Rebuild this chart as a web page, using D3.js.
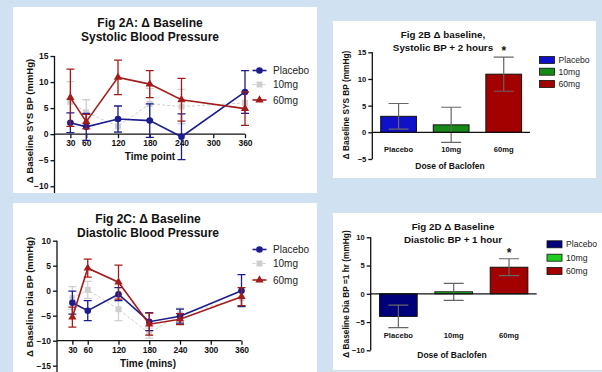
<!DOCTYPE html>
<html>
<head>
<meta charset="utf-8">
<script src="https://cdn.jsdelivr.net/npm/d3@7"></script>
<style>
  body { margin: 0; background: #d0e1f2; }
  svg { display: block; font-family: "Liberation Sans", Arial, sans-serif; }
</style>
</head>
<body>
<div id="chart"></div>
<script>
// Time points (mins) for the line panels
var timePoints = [30, 60, 120, 180, 240, 360];
var timeTicks = [30, 60, 120, 180, 240, 300, 360];
var groups = ["Placebo", "10mg", "60mg"];

// Fig 2A - systolic change from baseline, mean and error
var sysPlacebo = [2.2, 1.4, 2.9, 2.6, -0.5, 8.1];
var sysPlaceboErr = [1.9, 2.6, 2.5, 3.2, 4.4, 4.1];
var sys10 = [6.2, 4.2, 1.5, 5.8, 5.3, 6.0];
var sys10Err = [3.9, 2.4, 1.0, 3.0, 3.3, 2.0];
var sys60 = [7.0, 2.4, 10.9, 9.6, 6.6, 4.9];
var sys60Err = [5.5, 1.4, 3.3, 2.6, 4.1, 3.2];

// Fig 2C - diastolic change from baseline
var diaPlacebo = [-2.4, -4.0, -0.7, -6.2, -5.1, 0.0];
var diaPlaceboErr = [2.3, 2.0, 1.3, 1.8, 1.4, 3.2];
var dia10 = [-1.5, 0.15, -3.7, -8.5, -4.7, -1.5];
var dia10Err = [2.3, 1.7, 2.3, 1.0, 1.2, 1.5];
var dia60 = [-5.3, 4.5, 1.7, -6.7, -5.7, -1.2];
var dia60Err = [2.0, 1.8, 3.4, 2.2, 1.1, 1.8];

// Fig 2B / 2D - bar panels
var sys2h = [3.0, 1.4, 10.9];
var sys2hErr = [2.4, 3.3, 3.2];
var dia1h = [-4.0, 0.35, 4.7];
var dia1hErr = [2.0, 1.5, 1.5];

var W = 602, H = 372;
var FONT = "'Liberation Sans', Arial, sans-serif";

var svg = d3.select("#chart").append("svg")
  .attr("width", W).attr("height", H);

svg.append("rect").attr("width", W).attr("height", H).attr("fill", "#d0e1f2");

var lineColors = { "Placebo": "#1c1c8c", "10mg": "#cfcfcf", "60mg": "#a31c1c" };

function panel(id, x0, y0, x1, y1) {
  svg.append("clipPath").attr("id", id)
    .append("rect").attr("x", x0).attr("y", y0).attr("width", x1 - x0).attr("height", y1 - y0);
  svg.append("rect").attr("x", x0).attr("y", y0).attr("width", x1 - x0).attr("height", y1 - y0)
    .attr("fill", "#fff");
  return svg.append("g").attr("clip-path", "url(#" + id + ")");
}

function marker(g, shape, cx, cy, color) {
  if (shape === "circle") {
    g.append("circle").attr("cx", cx).attr("cy", cy).attr("r", 3.3).attr("fill", color);
  } else {
    var sym = shape === "square" ? d3.symbolSquare : d3.symbolTriangle;
    var size = shape === "square" ? 36 : 30;
    g.append("path").attr("d", d3.symbol().type(sym).size(size)())
      .attr("transform", "translate(" + cx + "," + cy + ")").attr("fill", color);
  }
}

function linePanel(cfg) {
  var g = panel(cfg.id, cfg.box[0], cfg.box[1], cfg.box[2], cfg.box[3]);
  var x = d3.scaleLinear().domain([0, 360]).range(cfg.xr);
  var y = d3.scaleLinear().domain(cfg.yd).range(cfg.yr);

  // title
  cfg.title.forEach(function(t, i) {
    g.append("text").attr("x", cfg.titleX).attr("y", cfg.titleY + i * 14)
      .attr("text-anchor", "middle").attr("font-size", 12).attr("font-weight", "bold")
      .attr("fill", "#111").text(t);
  });

  // axes
  var yAxis = d3.axisLeft(y).tickValues(cfg.yTicks).tickSize(4).tickPadding(2);
  var gy = g.append("g").attr("transform", "translate(" + x(0) + ",0)").call(yAxis);
  gy.select(".domain").attr("d", "M0," + y(cfg.yd[1]) + "V" + (cfg.yr[0] + 20));
  var xAxis = d3.axisBottom(x).tickValues(timeTicks).tickSize(4).tickPadding(2);
  var gx = g.append("g").attr("transform", "translate(0," + y(cfg.xAt) + ")").call(xAxis);
  gx.select(".domain").attr("d", "M" + x(0) + ",0H" + x(360));
  [gx, gy].forEach(function(a) {
    a.selectAll("path,line").attr("stroke", "#111").attr("stroke-width", 1.3);
    a.selectAll("text").attr("font-family", FONT).attr("font-size", 8.5)
      .attr("font-weight", "bold").attr("fill", "#111");
  });

  g.append("text").attr("x", cfg.xLabelX).attr("y", y(cfg.xAt) + 26)
    .attr("text-anchor", "middle").attr("font-size", 10).attr("font-weight", "bold")
    .attr("fill", "#111").text(cfg.xLabel);
  g.append("text").attr("transform", "translate(" + cfg.yLabelX + "," + cfg.yLabelY + ") rotate(-90)")
    .attr("text-anchor", "middle").attr("font-size", 9.5).attr("font-weight", "bold")
    .attr("fill", "#111").text(cfg.yLabel);

  // series: 10mg first (behind), then placebo, then 60mg
  var order = [1, 0, 2];
  var shapes = ["circle", "square", "triangle"];
  order.forEach(function(k) {
    var name = groups[k], color = lineColors[name];
    var vals = cfg.series[k], errs = cfg.errors[k];
    var pts = timePoints.map(function(t, i) { return [x(t), y(vals[i])]; });
    var sg = g.append("g");
    timePoints.forEach(function(t, i) {
      var cx = x(t), top = y(vals[i] + errs[i]), bot = y(vals[i] - errs[i]);
      sg.append("path")
        .attr("d", "M" + cx + "," + top + "V" + bot + "M" + (cx - 4) + "," + top + "h8M" + (cx - 4) + "," + bot + "h8")
        .attr("stroke", color).attr("stroke-width", 1.3).attr("fill", "none");
    });
    sg.append("path").attr("d", d3.line()(pts)).attr("fill", "none")
      .attr("stroke", color).attr("stroke-width", k === 1 ? 1 : 1.6)
      .attr("stroke-dasharray", k === 1 ? "3,2" : null);
    pts.forEach(function(p) { marker(sg, shapes[k], p[0], p[1], color); });
  });

  // legend
  groups.forEach(function(name, k) {
    var ly = cfg.legendY[k], color = lineColors[name];
    g.append("line").attr("x1", 252.5).attr("x2", 266.5).attr("y1", ly).attr("y2", ly)
      .attr("stroke", color).attr("stroke-width", k === 1 ? 1 : 1.6)
      .attr("stroke-dasharray", k === 1 ? "3,2" : null);
    marker(g, shapes[k], 259.5, ly, color);
    g.append("text").attr("x", 273).attr("y", ly + 3.5).attr("font-size", 10)
      .attr("fill", "#222").text(name);
  });
}

function barPanel(cfg) {
  var g = panel(cfg.id, cfg.box[0], cfg.box[1], cfg.box[2], cfg.box[3]);
  var x = d3.scaleBand().domain(groups).range(cfg.xr).paddingInner(0.32).paddingOuter(0.16);
  var y = d3.scaleLinear().domain(cfg.yd).range(cfg.yr);

  cfg.title.forEach(function(t, i) {
    g.append("text").attr("x", cfg.titleX).attr("y", cfg.titleY + i * 12.5)
      .attr("text-anchor", "middle").attr("font-size", 9.8).attr("font-weight", "bold")
      .attr("fill", "#111").text(t);
  });

  // bars
  groups.forEach(function(name, k) {
    var v = cfg.values[k], e = cfg.errors[k];
    g.append("rect").attr("x", x(name)).attr("width", x.bandwidth())
      .attr("y", Math.min(y(v), y(0))).attr("height", Math.abs(y(v) - y(0)))
      .attr("fill", cfg.colors[k]).attr("stroke", "#111").attr("stroke-width", 1);
    var cx = x(name) + x.bandwidth() / 2, top = y(v + e), bot = y(v - e);
    g.append("path")
      .attr("d", "M" + cx + "," + top + "V" + bot + "M" + (cx - 10) + "," + top + "h20M" + (cx - 10) + "," + bot + "h20")
      .attr("stroke", "#666").attr("stroke-width", 1.2).attr("fill", "none");
  });

  // significance star over 60mg
  var sx = x("60mg") + x.bandwidth() / 2;
  g.append("text").attr("x", sx).attr("y", y(cfg.values[2] + cfg.errors[2]) - 2)
    .attr("text-anchor", "middle").attr("font-size", 12).attr("font-weight", "bold")
    .attr("fill", "#111").text("*");

  var yAxis = d3.axisLeft(y).tickValues(cfg.yTicks).tickSize(4).tickPadding(2);
  var gy = g.append("g").attr("transform", "translate(" + cfg.xr[0] + ",0)").call(yAxis);
  gy.select(".domain").attr("d", "M0," + cfg.yr[1] + "V" + cfg.yr[0]);
  var gx = g.append("g").attr("transform", "translate(0," + y(0) + ")")
    .call(d3.axisBottom(x).tickSize(0).tickPadding(0));
  gx.select(".domain").attr("d", "M" + cfg.xr[0] + ",0H" + cfg.xr[1]);
  gx.selectAll("text").attr("y", cfg.tickLabelY - y(0)).attr("dy", "0.35em");
  [gx, gy].forEach(function(a) {
    a.selectAll("path,line").attr("stroke", "#111").attr("stroke-width", 1.3);
    a.selectAll("text").attr("font-family", FONT).attr("font-size", 7.6)
      .attr("font-weight", "bold").attr("fill", "#111");
  });

  g.append("text").attr("x", cfg.xLabelX).attr("y", cfg.xLabelY)
    .attr("text-anchor", "middle").attr("font-size", 8.5).attr("font-weight", "bold")
    .attr("fill", "#111").text("Dose of Baclofen");
  g.append("text").attr("transform", "translate(" + cfg.yLabelX + "," + cfg.yLabelY + ") rotate(-90)")
    .attr("text-anchor", "middle").attr("font-size", 8.3).attr("font-weight", "bold")
    .attr("fill", "#111").text(cfg.yLabel);

  groups.forEach(function(name, k) {
    var ly = cfg.legendY[k];
    g.append("rect").attr("x", cfg.legendX).attr("y", ly - 3.5).attr("width", 15).attr("height", 7)
      .attr("fill", cfg.colors[k]).attr("stroke", "#111").attr("stroke-width", 0.8);
    g.append("text").attr("x", cfg.legendX + 19).attr("y", ly + 3).attr("font-size", 8.6)
      .attr("fill", "#222").text(name);
  });
}

linePanel({
  id: "clipA", box: [13, 7, 317, 193],
  xr: [54.5, 245], yd: [-15, 15], yr: [212.3, 56], yTicks: [-10, -5, 0, 5, 10, 15], xAt: 0,
  title: ["Fig 2A: \u0394 Baseline", "Systolic Blood Pressure"], titleX: 150, titleY: 27,
  xLabel: "Time point", xLabelX: 150, yLabel: "\u0394 Baseline SYS BP (mmHg)", yLabelX: 33, yLabelY: 121,
  series: [sysPlacebo, sys10, sys60], errors: [sysPlaceboErr, sys10Err, sys60Err],
  legendY: [70.5, 84.5, 100]
});

linePanel({
  id: "clipC", box: [13, 203, 317, 372],
  xr: [57, 241.5], yd: [-15, 10], yr: [365.7, 240.7], yTicks: [-15, -10, -5, 0, 5, 10], xAt: -10,
  title: ["Fig 2C: \u0394 Baseline", "Diastolic Blood Pressure"], titleX: 148, titleY: 223,
  xLabel: "Time (mins)", xLabelX: 148, yLabel: "\u0394 Baseline Dia BP (mmHg)", yLabelX: 33, yLabelY: 297,
  series: [diaPlacebo, dia10, dia60], errors: [diaPlaceboErr, dia10Err, dia60Err],
  legendY: [249.5, 263.5, 280]
});

barPanel({
  id: "clipB", box: [333, 21, 596, 178],
  xr: [372.3, 530], yd: [-5, 15], yr: [159, 52.3], yTicks: [-5, 0, 5, 10, 15],
  colors: ["#1010c8", "#168a16", "#a30000"],
  values: sys2h, errors: sys2hErr,
  title: ["Fig 2B \u0394 baseline,", "Systolic BP + 2 hours"], titleX: 443, titleY: 38,
  tickLabelY: 149, xLabelX: 450, xLabelY: 169,
  yLabel: "\u0394 Baseline SYS BP (mmHg)", yLabelX: 349, yLabelY: 105,
  legendX: 539.5, legendY: [60, 71.7, 84]
});

barPanel({
  id: "clipD", box: [333, 213, 602, 370],
  xr: [370.7, 536.7], yd: [-10, 10], yr: [350.3, 237.3], yTicks: [-10, -5, 0, 5, 10],
  colors: ["#00007a", "#1fcc1f", "#a30000"],
  values: dia1h, errors: dia1hErr,
  title: ["Fig 2D \u0394 Baseline", "Diastolic BP + 1 hour"], titleX: 453, titleY: 230,
  tickLabelY: 335.7, xLabelX: 452, xLabelY: 357.5,
  yLabel: "\u0394 Baseline Dia BP =1 hr (mmHg)", yLabelX: 349, yLabelY: 294,
  legendX: 547, legendY: [244.3, 257.7, 271]
});
</script>
</body>
</html>
